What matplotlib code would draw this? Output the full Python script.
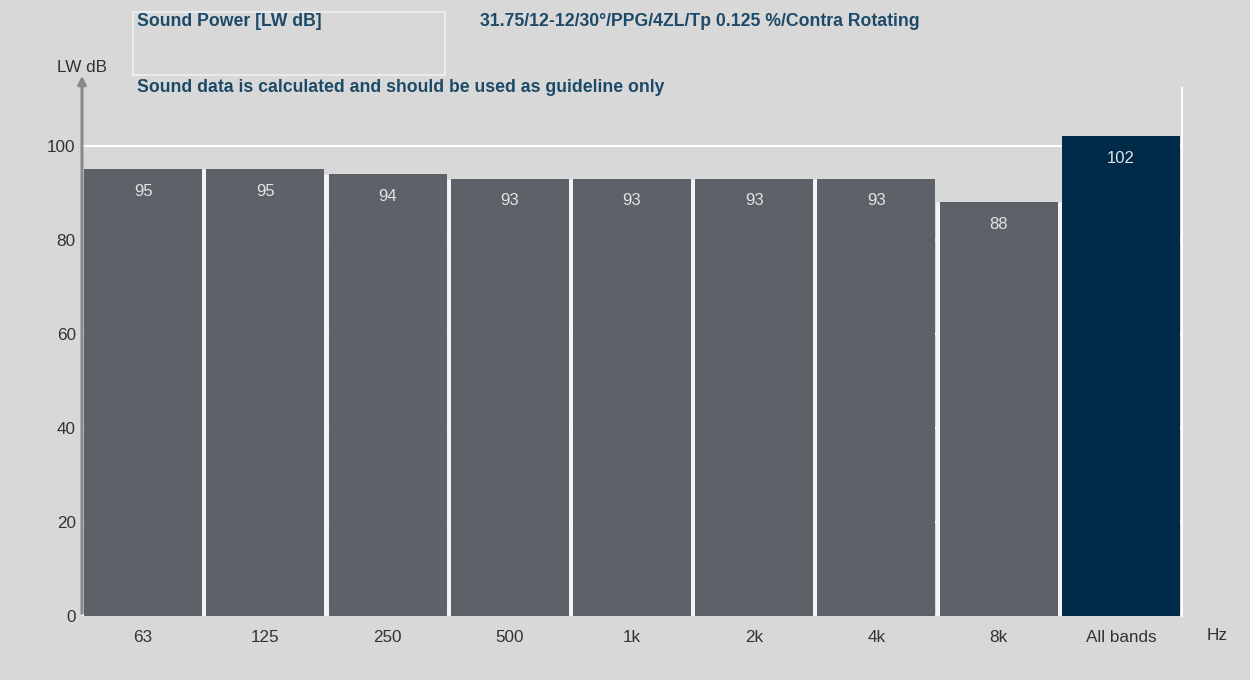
import matplotlib
matplotlib.use("Agg")
import matplotlib.pyplot as plt
from matplotlib.patches import Rectangle

bands = ["63", "125", "250", "500", "1k", "2k", "4k", "8k", "All bands"]
lw_db = [95, 95, 94, 93, 93, 93, 93, 88, 102]
y_ticks = [0, 20, 40, 60, 80, 100]

bg = "#d8d8d8"
bar_grey = "#5d6168"
bar_blue = "#002b49"
title_blue = "#1d4a68"
txt = "#333333"
reg = ['Liberation Sans', 'DejaVu Sans']
plt.rcParams['font.family'] = reg

fig = plt.figure(figsize=(12.5, 6.8), dpi=100, facecolor=bg)
ax = fig.add_axes([82/1250, 64/680, 1100/1250, 528/680], facecolor=bg)

colors = [bar_grey] * (len(bands) - 1) + [bar_blue]
x = list(range(len(bands)))
ax.set_axisbelow(True)
ax.yaxis.grid(True, color="white", linewidth=1.5)
ax.bar(x, lw_db, width=0.965, color=colors, linewidth=0, zorder=2)

# light separators between neighbouring bars (up to the lower one)
sep_x = [xi + 0.5 for xi in x[:-1]]
sep_top = [min(a, b) for a, b in zip(lw_db[:-1], lw_db[1:])]
ax.vlines(sep_x, 0, sep_top, color="#f4f4f4", linewidth=3.5, zorder=1.5)

for xi, v in zip(x, lw_db):
    ax.annotate(str(v), (xi, v), xytext=(0, -16), textcoords="offset points",
                ha="center", va="center", color="#e2e4e6", fontsize=12, zorder=3)

ax.set_xlim(-0.5, len(bands) - 0.5)
ax.set_ylim(0, 112.3)
ax.set_xticks(x)
ax.set_xticklabels(bands, fontsize=12.3, color=txt)
ax.set_yticks(y_ticks)
ax.set_yticklabels([str(t) for t in y_ticks], fontsize=12.3, color=txt)
ax.tick_params(axis="both", length=0)
ax.tick_params(axis="x", pad=10)
ax.tick_params(axis="y", pad=4.5)

for s in ["top", "left", "bottom"]:
    ax.spines[s].set_visible(False)
ax.spines["right"].set_color("white")
ax.spines["right"].set_linewidth(1.5)

# y axis with arrow
ax.annotate("", xy=(-0.5, 115.5), xytext=(-0.5, 0),
            arrowprops=dict(arrowstyle="-|>", color="#8a8a8a", lw=2.2, mutation_scale=12),
            annotation_clip=False)
fig.text(82/1250, 1 - 68/680, "LW dB", ha="center", va="center", fontsize=12.3, color=txt)
fig.text(1217/1250, 1 - 636/680, "Hz", ha="center", va="center", fontsize=12.3, color=txt)

# title box and texts
fig.patches.append(Rectangle((133/1250, 1 - 75/680), 312/1250, 63/680, transform=fig.transFigure,
                             facecolor="none", edgecolor="#efefef", linewidth=1.2))
fig.text(137/1250, 1 - 21/680, "Sound Power [LW dB]", ha="left", va="center",
         fontsize=12.7, fontweight="bold", color=title_blue)
fig.text(480/1250, 1 - 21/680, "31.75/12-12/30°/PPG/4ZL/Tp 0.125 %/Contra Rotating",
         ha="left", va="center", fontsize=12.7, fontweight="bold", color=title_blue)
fig.text(137/1250, 1 - 87/680, "Sound data is calculated and should be used as guideline only",
         ha="left", va="center", fontsize=12.7, fontweight="bold", color=title_blue)

fig.savefig("out.png", dpi=100, facecolor=bg)
